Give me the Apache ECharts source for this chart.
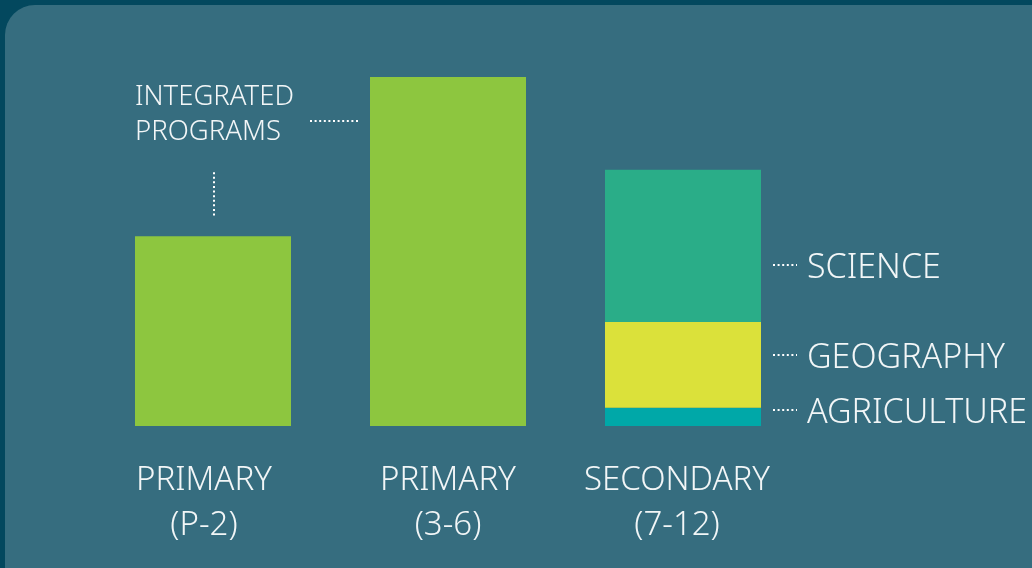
<!DOCTYPE html>
<html><head><meta charset="utf-8">
<script src="https://cdn.jsdelivr.net/npm/echarts@6/dist/echarts.min.js"></script>
<style>html,body{margin:0;padding:0;background:#03485e;}#c{width:1032px;height:568px;}</style>
</head><body><div id="c"></div>
<script>
const categories = ['PRIMARY\n(P-2)', 'PRIMARY\n(3-6)', 'SECONDARY\n(7-12)'];
const integrated = [54.4, 100, '-'];
const agriculture = ['-', '-', 5.2];
const geography = ['-', '-', 24.6];
const science = ['-', '-', 43.6];
const integratedLabel = 'INTEGRATED\nPROGRAMS';
const subjectNames = ['AGRICULTURE', 'GEOGRAPHY', 'SCIENCE'];

const FONT = '"Noto Sans", "Open Sans", sans-serif';
const TXT = '#f2f6f7';
const chart = echarts.init(document.getElementById('c'), null, {renderer: 'canvas'});

function subjLabel(name, dy) {
  return {show: true, position: 'right', distance: 46, offset: [0, dy],
    formatter: name, color: TXT, fontSize: 34, fontWeight: 300, fontFamily: FONT};
}
function withLabel(arr, name, dy) {
  return arr.map(v => v === '-' ? '-' : {value: v, label: subjLabel(name, dy)});
}
const catPad = [[0, 18, 0, 0], [0, 0, 0, 0], [0, 12, 0, 0]];

chart.setOption({
  backgroundColor: '#03485e',
  animation: false,
  grid: {left: 95.5, right: 231.5, top: 77, bottom: 142},
  xAxis: {type: 'category',
    data: categories.map((c, i) => ({value: c, textStyle: {padding: catPad[i]}})),
    axisLine: {show: false}, axisTick: {show: false},
    axisLabel: {interval: 0, color: TXT, fontSize: 33, fontWeight: 300, lineHeight: 45, margin: 32, fontFamily: FONT}},
  yAxis: {type: 'value', min: 0, max: 100, show: false, splitLine: {show: false}},
  series: [
    {name: 'Integrated', type: 'bar', stack: 's', barWidth: 156, data: integrated,
      itemStyle: {color: '#8dc63f'}},
    {name: 'Agriculture', type: 'bar', stack: 's', barWidth: 156,
      data: withLabel(agriculture, subjectNames[0], -4), itemStyle: {color: '#00a8a8'}},
    {name: 'Geography', type: 'bar', stack: 's', barWidth: 156,
      data: withLabel(geography, subjectNames[1], -7), itemStyle: {color: '#dbe13a'}},
    {name: 'Science', type: 'bar', stack: 's', barWidth: 156,
      data: withLabel(science, subjectNames[2], 22), itemStyle: {color: '#2aad88'}}
  ]
});

function px(i, v) { return chart.convertToPixel({gridIndex: 0}, [i, v]); }
const dot = {stroke: '#ffffff', lineWidth: 2, lineDash: [2, 2.6]};
const g = [{type: 'rect', z: -10, silent: true,
  shape: {x: 5, y: 5, width: 1060, height: 600, r: 30}, style: {fill: '#366d7f'}}];

const p0 = px(0, integrated[0]);
const p1 = px(1, integrated[1]);
g.push({type: 'text', x: p0[0] - 78, y: 80,
  style: {text: integratedLabel, fill: TXT, font: '300 27.5px ' + FONT, lineHeight: 35, verticalAlign: 'top'}});
g.push({type: 'line', shape: {x1: p0[0] + 1, y1: p0[1] - 64, x2: p0[0] + 1, y2: p0[1] - 18}, style: dot});
g.push({type: 'line', shape: {x1: p1[0] - 138, y1: 121, x2: p1[0] - 90, y2: 121}, style: dot});

let base = 0;
const segs = [[agriculture[2], -7], [geography[2], -10], [science[2], 19]];
segs.forEach(([v, dy]) => {
  const mid = px(2, base + v / 2);
  base += v;
  const y = mid[1] + dy;
  g.push({type: 'line', shape: {x1: mid[0] + 90, y1: y, x2: mid[0] + 114, y2: y}, style: dot});
});
chart.setOption({graphic: g});
</script></body></html>
